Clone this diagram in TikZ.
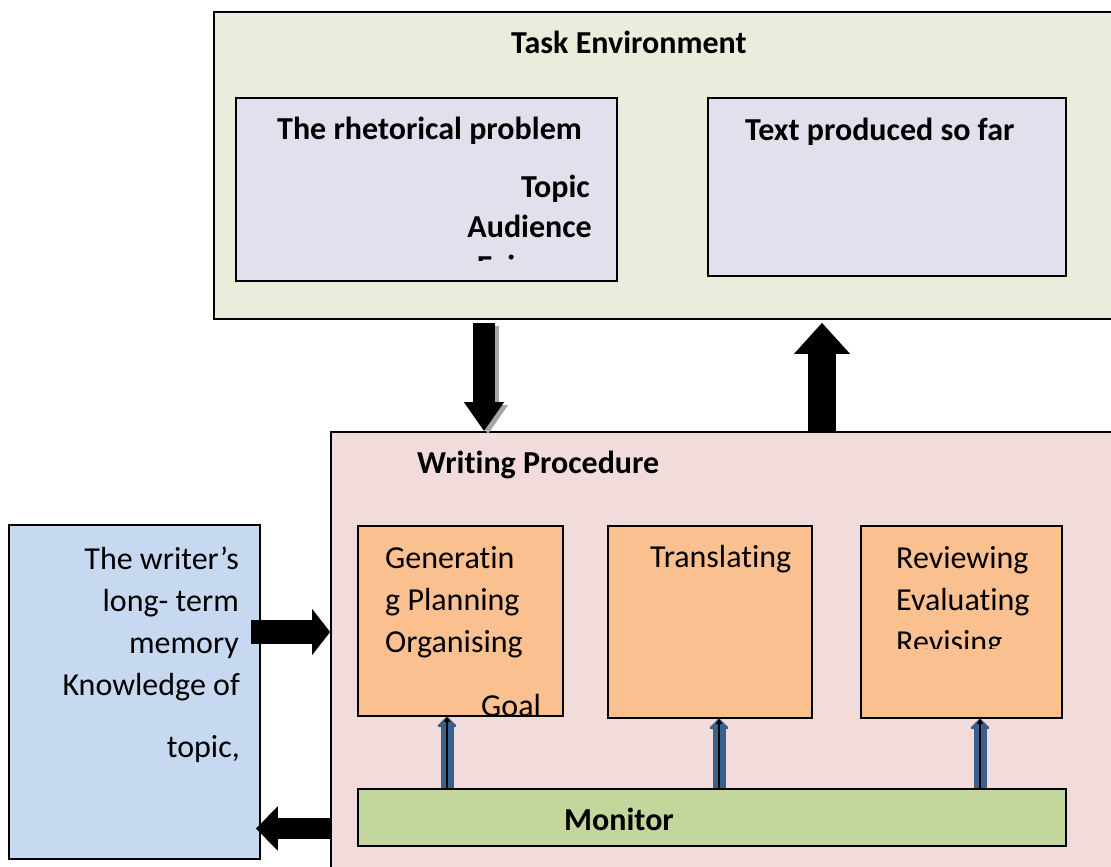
\documentclass[tikz,border=0pt]{standalone}
\usepackage{fontspec}
\setmainfont{Carlito}[Ligatures=NoCommon]
\usetikzlibrary{arrows.meta}

\definecolor{envgreen}{HTML}{E9EDDC}
\definecolor{lavender}{HTML}{E4DFEC}
\definecolor{procpink}{HTML}{F2DCDB}
\definecolor{steporange}{HTML}{FAC090}
\definecolor{monigreen}{HTML}{C3D69B}
\definecolor{memblue}{HTML}{C6D9F1}
\definecolor{steelblue}{HTML}{3B5E8C}

\begin{document}
\begin{tikzpicture}[x=1pt,y=-1pt,
    box/.style={draw=black, line width=1.6pt, rectangle, inner sep=0pt},
    txt/.style={inner sep=0pt, font=\fontsize{32}{42}\selectfont},
    btxt/.style={inner sep=0pt, font=\fontsize{32}{42}\selectfont\bfseries},
    monarrow/.style={black, line width=2.5pt, -{Triangle[length=5pt,width=6pt]},
        preaction={draw=steelblue, line width=13pt, -{Triangle[length=11pt,width=22pt,round]}}}]

        \useasboundingbox (0,0) rectangle (1111,867);

        % boxes
        \node[box, fill=envgreen, minimum width=898pt, minimum height=307pt] (taskenv) at (663,165.5) {};
        \node[box, fill=lavender, minimum width=381pt, minimum height=183pt] (rhet) at (426.5,189.5) {};
        \node[box, fill=lavender, minimum width=358pt, minimum height=178pt] (sofar) at (887,187) {};
        \node[box, fill=procpink, minimum width=784pt, minimum height=438pt] (proc) at (723,651) {};
        \node[box, fill=steporange, minimum width=205pt, minimum height=190pt] (gen) at (460.5,621) {};
        \node[box, fill=steporange, minimum width=204pt, minimum height=192pt] (trans) at (710,622) {};
        \node[box, fill=steporange, minimum width=201pt, minimum height=192pt] (rev) at (961.5,622) {};
        \node[box, fill=monigreen, minimum width=708pt, minimum height=57pt] (monitor) at (712,817.5) {};
        \node[box, fill=memblue, minimum width=251pt, minimum height=334pt] (memory) at (134.5,692) {};

        % texts
        \node[btxt, anchor=base west] (envtitle) at (511,54) {Task Environment};
        \node[btxt, anchor=base west] (rhettitle) at (277,139) {The rhetorical problem};
        \node[btxt, anchor=base east] (topic) at (590,197) {Topic};
        \node[btxt, anchor=base east] (audience) at (592,237) {Audience};
        \begin{scope}
            \clip (236,98) rectangle (617,260);
            \node[btxt, anchor=base east] (exigency) at (592,277) {Exigency};
        \end{scope}
        \node[btxt, anchor=base west] (sofartitle) at (745,140) {Text produced so far};
        \node[btxt, anchor=base west] (proctitle) at (417,473) {Writing Procedure};

        \node[txt, anchor=base west] (genA) at (385,568) {Generatin};
        \node[txt, anchor=base west] (genB) at (385,610) {g Planning};
        \node[txt, anchor=base west] (genC) at (385,652) {Organising};
        \node[txt, anchor=base west] (goal) at (481,716) {Goal};
        \node[txt, anchor=base west] (transA) at (650,567) {Translating};
        \node[txt, anchor=base west] (revA) at (896,568) {Reviewing};
        \node[txt, anchor=base west] (revB) at (896,610) {Evaluating};
        \begin{scope}
            \clip (861,526) rectangle (1062,648);
            \node[txt, anchor=base west] (revC) at (896,652) {Revising};
        \end{scope}
        \node[btxt, anchor=base] (monitortext) at (619,830) {Monitor};

        \node[txt, anchor=base east] (memA) at (239,569) {The writer’s};
        \node[txt, anchor=base east] (memB) at (239,611) {long- term};
        \node[txt, anchor=base east] (memC) at (239,653) {memory};
        \node[txt, anchor=base east] (memD) at (240,695) {Knowledge of};
        \node[txt, anchor=base east] (memE) at (240,757) {topic,};

        % block arrows
        \coordinate (dx) at (484,0);
        \coordinate (ux) at (822,0);
        \coordinate (ry) at (0,632);
        \coordinate (ly) at (0,828.5);
        \draw[gray!70, line width=22pt, -{Triangle[length=29pt,width=38pt]}, shorten <=3pt,
            transform canvas={xshift=4pt,yshift=-3pt}] (taskenv.south -| dx) -- (proc.north -| dx);
        \draw[black, line width=22pt, -{Triangle[length=29pt,width=38pt]}, shorten <=3pt]
            (taskenv.south -| dx) -- (proc.north -| dx);
        \draw[black, line width=28pt, -{Triangle[length=31pt,width=54pt]}, shorten >=3pt]
            (proc.north -| ux) -- (taskenv.south -| ux);
        \draw[black, line width=24pt, -{Triangle[length=18pt,width=45pt]}, shorten <=-10pt]
            (memory.east |- ry) -- (proc.west |- ry);
        \draw[black, line width=21pt, -{Triangle[length=22pt,width=43pt]}, shorten >=-5pt]
            (proc.west |- ly) -- (memory.east |- ly);

        % monitor arrows
        \coordinate (m1) at (447,0);
        \coordinate (m2) at (719,0);
        \coordinate (m3) at (980,0);
        \draw[monarrow] (monitor.north -| m1) -- (gen.south -| m1);
        \draw[monarrow] (monitor.north -| m2) -- (trans.south -| m2);
        \draw[monarrow] (monitor.north -| m3) -- (rev.south -| m3);

    \end{tikzpicture}
\end{document}
